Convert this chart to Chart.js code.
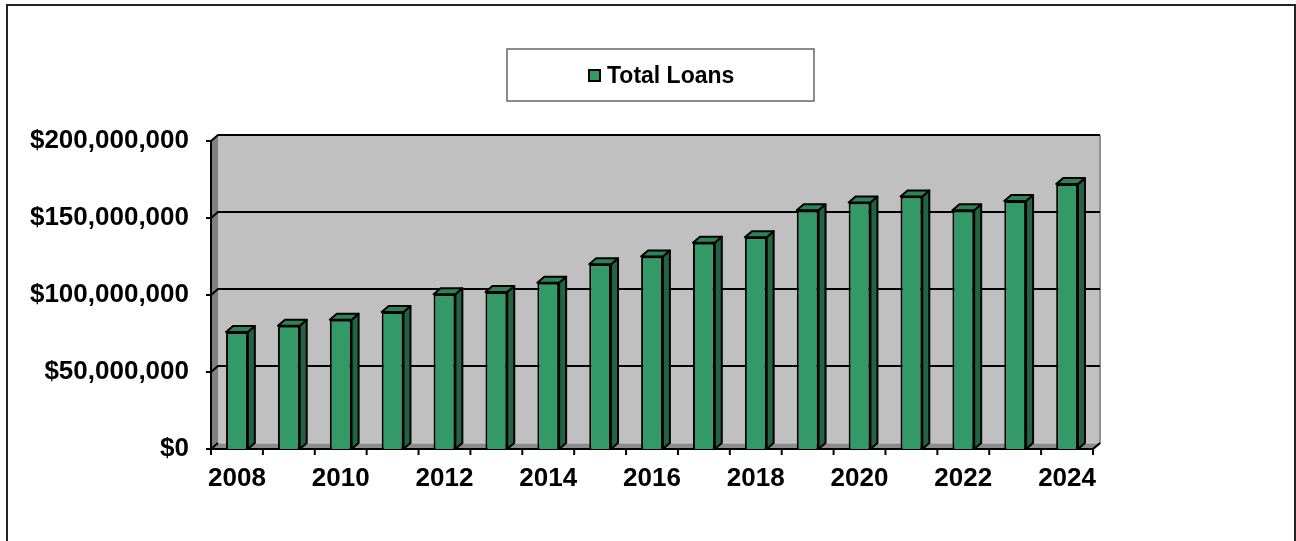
<!DOCTYPE html>
<html>
<head>
<meta charset="utf-8">
<script src="https://cdn.jsdelivr.net/npm/chart.js@4/dist/chart.umd.min.js"></script>
<style>
  html, body { margin: 0; padding: 0; background: #fff; }
  #wrap { width: 1296px; height: 541px; }
</style>
</head>
<body>
<div id="wrap"><canvas id="loansChart" width="1296" height="541"></canvas></div>
<script>
// Données
const years = ['2008', '2009', '2010', '2011', '2012', '2013', '2014', '2015', '2016',
    '2017', '2018', '2019', '2020', '2021', '2022', '2023', '2024'];
const totalLoans = [76000000, 80000000, 84000000, 89000000, 100500000, 102000000, 108000000,
    120000000, 125000000, 134000000, 137500000, 155000000, 160000000, 164000000,
    155000000, 161000000, 172000000];
const yTicks = [0, 50000000, 100000000, 150000000, 200000000];
const seriesLabel = 'Total Loans';

const depth = { x: 7, y: 6 };
const fontFamily = '"Liberation Sans", Arial, sans-serif';
const barFront = '#339966';
const barSide = '#216343';
const barTop = '#2b8356';

function money(v) {
    return '$' + v.toLocaleString('en-US');
}

// Fond 3D : murs, sol, grille
const wallsPlugin = {
    id: 'walls',
    beforeDraw(chart) {
        const c = chart.ctx;
        c.save();
        c.strokeStyle = '#222';
        c.lineWidth = 2;
        c.beginPath();
        c.moveTo(7, 541);
        c.lineTo(7, 5);
        c.lineTo(1295, 5);
        c.lineTo(1295, 541);
        c.stroke();

        // Légende encadrée
        c.fillStyle = '#fff';
        c.fillRect(507, 49, 307, 52);
        c.strokeStyle = '#666';
        c.lineWidth = 1.5;
        c.strokeRect(507, 49, 307, 52);
        c.fillStyle = barFront;
        c.fillRect(589, 70, 11, 11);
        c.strokeStyle = '#000';
        c.lineWidth = 2;
        c.strokeRect(589, 70, 11, 11);
        c.fillStyle = '#000';
        c.font = 'bold 23px ' + fontFamily;
        c.textBaseline = 'middle';
        c.textAlign = 'left';
        c.fillText(seriesLabel, 607, 77);
        c.restore();
    },
    beforeDatasetsDraw(chart) {
        const c = chart.ctx;
        const a = chart.chartArea;
        const ys = chart.scales.y;
        const dx = depth.x, dy = depth.y;
        c.save();
        // mur du fond
        c.fillStyle = '#c0c0c0';
        c.fillRect(a.left + dx, a.top - dy, a.right - a.left, a.bottom - a.top);
        // mur gauche
        c.fillStyle = '#808080';
        c.beginPath();
        c.moveTo(a.left, a.top);
        c.lineTo(a.left + dx, a.top - dy);
        c.lineTo(a.left + dx, a.bottom - dy);
        c.lineTo(a.left, a.bottom);
        c.closePath();
        c.fill();
        // sol
        c.fillStyle = '#8c8c8c';
        c.beginPath();
        c.moveTo(a.left, a.bottom);
        c.lineTo(a.left + dx, a.bottom - dy);
        c.lineTo(a.right + dx, a.bottom - dy);
        c.lineTo(a.right, a.bottom);
        c.closePath();
        c.fill();
        c.strokeStyle = '#d0d0d0';
        c.lineWidth = 1;
        c.beginPath();
        c.moveTo(a.left + dx, a.bottom - dy);
        c.lineTo(a.right + dx, a.bottom - dy);
        c.stroke();
        // bord droit du mur
        c.strokeStyle = '#909090';
        c.lineWidth = 2;
        c.beginPath();
        c.moveTo(a.right + dx, a.top - dy);
        c.lineTo(a.right + dx, a.bottom - dy);
        c.lineTo(a.right, a.bottom);
        c.stroke();

        // lignes de grille
        c.strokeStyle = '#000';
        c.lineWidth = 2;
        yTicks.forEach(v => {
            const y = ys.getPixelForValue(v);
            c.beginPath();
            c.moveTo(a.left - 5, y);
            c.lineTo(a.left, y);
            c.lineTo(a.left + dx, y - dy);
            if (v > 0) c.lineTo(a.right + dx, y - dy);
            c.stroke();
        });
        // axes
        c.beginPath();
        c.moveTo(a.left, a.top);
        c.lineTo(a.left, a.bottom);
        c.lineTo(a.right, a.bottom);
        c.lineTo(a.right + dx, a.bottom - dy);
        c.stroke();
        const step = (a.right - a.left) / years.length;
        for (let i = 0; i <= years.length; i++) {
            const x = a.left + i * step;
            c.beginPath();
            c.moveTo(x, a.bottom);
            c.lineTo(x, a.bottom + 6);
            c.stroke();
        }
        c.restore();
    },
    afterDatasetsDraw(chart) {
        const c = chart.ctx;
        const dx = depth.x, dy = depth.y;
        c.save();
        c.strokeStyle = '#000';
        c.lineWidth = 2;
        c.lineJoin = 'round';
        chart.getDatasetMeta(0).data.forEach(bar => {
            const l = bar.x - bar.width / 2;
            const r = bar.x + bar.width / 2;
            const t = bar.y;
            const b = bar.base;
            c.fillStyle = barSide;
            c.beginPath();
            c.moveTo(r, t);
            c.lineTo(r + dx, t - dy);
            c.lineTo(r + dx, b - dy);
            c.lineTo(r, b);
            c.closePath();
            c.fill();
            c.stroke();
            c.fillStyle = barTop;
            c.beginPath();
            c.moveTo(l, t);
            c.lineTo(l + dx, t - dy);
            c.lineTo(r + dx, t - dy);
            c.lineTo(r, t);
            c.closePath();
            c.fill();
            c.stroke();
        });
        c.restore();
    }
};

const ctx = document.getElementById('loansChart').getContext('2d');
const loansChart = new Chart(ctx, {
    type: 'bar',
    data: {
        labels: years,
        datasets: [{
            label: seriesLabel,
            data: totalLoans,
            backgroundColor: barFront,
            borderColor: '#000',
            borderWidth: 2,
            barPercentage: 0.42,
            categoryPercentage: 1
        }]
    },
    options: {
        responsive: false,
        animation: false,
        devicePixelRatio: 1,
        layout: { padding: { top: 141, right: 203, left: 0, bottom: 0 } },
        plugins: {
            legend: { display: false },
            tooltip: { enabled: false }
        },
        scales: {
            x: {
                grid: { display: false, drawTicks: false },
                border: { display: false },
                afterFit: s => { s.height = 92; },
                ticks: {
                    autoSkip: false,
                    maxRotation: 0,
                    padding: 14,
                    color: '#000',
                    font: { family: fontFamily, size: 26, weight: 'bold' },
                    callback: (v, i) => (i % 2 === 0 ? years[i] : '')
                }
            },
            y: {
                min: 0,
                max: 200000000,
                grid: { display: false, drawTicks: false },
                border: { display: false },
                afterFit: s => { s.width = 211; },
                afterBuildTicks: s => { s.ticks = yTicks.map(v => ({ value: v })); },
                ticks: {
                    padding: 22,
                    color: '#000',
                    font: { family: fontFamily, size: 26, weight: 'bold' },
                    callback: v => money(v)
                }
            }
        }
    },
    plugins: [wallsPlugin]
});
</script>
</body>
</html>
